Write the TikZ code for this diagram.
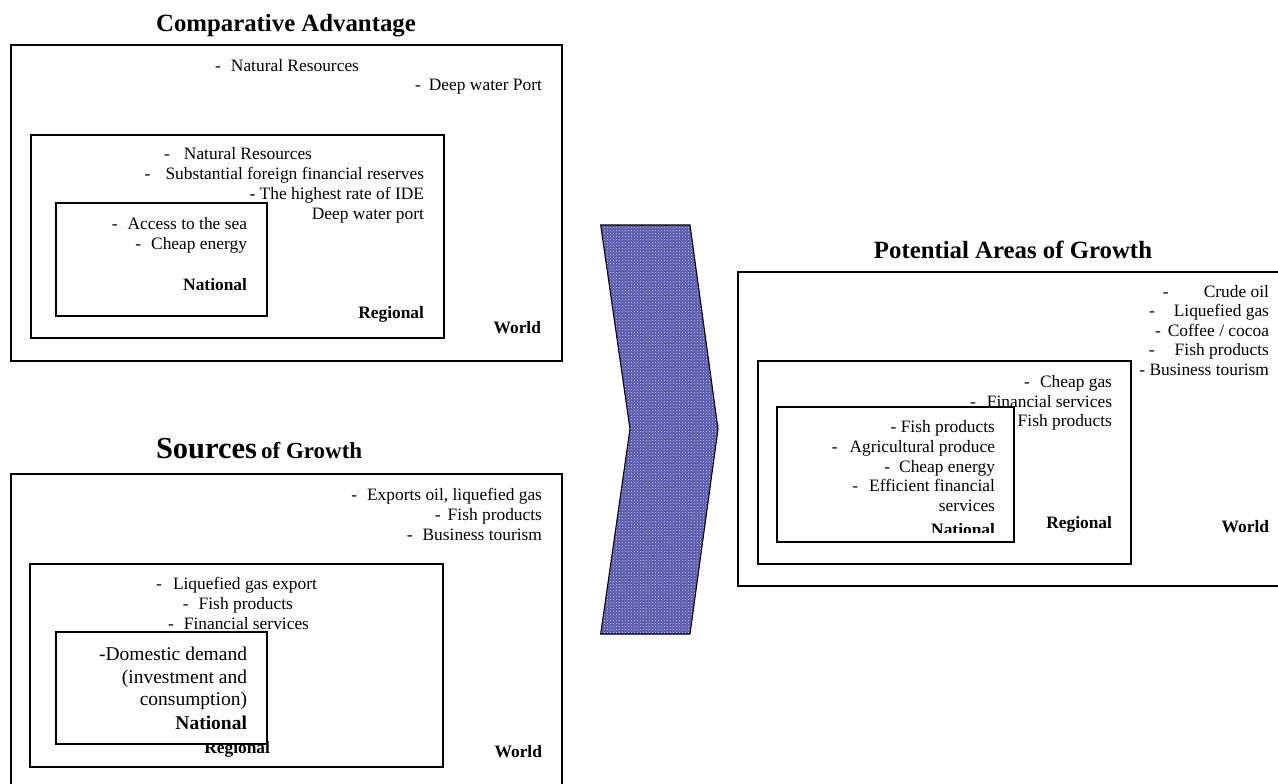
\documentclass[tikz,border=0pt]{standalone}
\usepackage{fontspec}
\setmainfont{Liberation Serif}
\usetikzlibrary{patterns}
\definecolor{chevfill}{RGB}{85,85,172}
\definecolor{chevdot}{RGB}{215,215,245}
\newcommand\bodyf{\fontsize{17.4}{20}\selectfont}
\newcommand\bigf{\fontsize{19.5}{22}\selectfont}
\newcommand\ttlf{\fontsize{24.8}{28}\selectfont\bfseries}
\newcommand\dsh[2]{-\hspace*{#1pt}#2}
\begin{document}
\begin{tikzpicture}[x=1pt,y=-1pt,
  wbox/.style={draw=black,line width=1.8pt},
  rbox/.style={draw=black,line width=1.6pt},
  nbox/.style={draw=black,line width=1.3pt,fill=white},
  ln/.style={inner sep=0pt,outer sep=0pt,anchor=base east,font=\bodyf},
  lb/.style={ln,font=\bodyf\bfseries},
  lg/.style={ln,font=\bigf},
  lgb/.style={ln,font=\bigf\bfseries},
  ttl/.style={inner sep=0pt,outer sep=0pt,anchor=base,font=\ttlf},
  chevron/.style={draw=black,line width=1.1pt,fill=chevfill}]
\useasboundingbox (0,0) rectangle (1278,784);
\clip (0,0) rectangle (1278,784);

% ---------- Comparative Advantage ----------
\node[ttl] (catitle) at (286,32) {Comparative Advantage};
\draw[wbox] (11,45) rectangle (562,361);
\draw[rbox] (31,135) rectangle (444,338);
\node[ln] (caw1) at (359,71) {\dsh{10}{Natural Resources}};
\node[ln] (caw2) at (542,91) {\dsh{8}{Deep water Port}};
\node[ln] (car1) at (312,159) {\dsh{14}{Natural Resources}};
\node[ln] (car2) at (424,179) {\dsh{15}{Substantial foreign financial reserves}};
\node[ln] (car3) at (424,199) {- The highest rate of IDE};
\node[ln] (car4) at (424,219) {Deep water port};
\node[lb] (careg) at (424,318) {Regional};
\node[lb] (cawor) at (541,333) {World};
\draw[nbox] (56,203) rectangle (267,316);
\node[ln] (can1) at (247,229) {\dsh{10}{Access to the sea}};
\node[ln] (can2) at (247,249) {\dsh{10}{Cheap energy}};
\node[lb] (canat) at (247,290) {National};

% ---------- Sources of Growth ----------
\node[inner sep=0pt,outer sep=0pt,anchor=base west,font=\bfseries] (sgtitle) at (156,458)
  {{\fontsize{30.5}{32}\selectfont Sources}\hspace{4pt}{\fontsize{23}{24}\selectfont of Growth}};
\draw[wbox] (11,474) rectangle (562,800);
\draw[rbox] (30,564) rectangle (443,767);
\node[ln] (sgw1) at (542,500) {\dsh{10}{Exports oil, liquefied gas}};
\node[ln] (sgw2) at (542,520) {\dsh{7}{Fish products}};
\node[ln] (sgw3) at (542,540) {\dsh{10}{Business tourism}};
\node[ln] (sgr1) at (317,589) {\dsh{11}{Liquefied gas export}};
\node[ln] (sgr2) at (293,609) {\dsh{10}{Fish products}};
\node[ln] (sgr3) at (309,629) {\dsh{10}{Financial services}};
\node[lb] (sgreg) at (270,753) {Regional};
\node[lb] (sgwor) at (542,757) {World};
\draw[nbox] (56,632) rectangle (267,744);
\node[lg] (sgn1) at (247,660) {-Domestic demand};
\node[lg] (sgn2) at (247,683) {(investment and};
\node[lg] (sgn3) at (247,705) {consumption)};
\node[lgb] (sgnat) at (247,729) {National};

% ---------- Chevron ----------
\coordinate (c1) at (600.7,225);
\coordinate (c2) at (690,225);
\coordinate (c3) at (718,429);
\coordinate (c4) at (690,634);
\coordinate (c5) at (600.7,634);
\coordinate (c6) at (630,429);
\fill[chevfill] (c1) -- (c2) -- (c3) -- (c4) -- (c5) -- (c6) -- cycle;
\fill[pattern=crosshatch dots,pattern color=chevdot] (c1) -- (c2) -- (c3) -- (c4) -- (c5) -- (c6) -- cycle;
\draw[chevron,fill=none,line join=miter] (c1) -- (c2) -- (c3) -- (c4) -- (c5) -- (c6) -- cycle;

% ---------- Potential Areas of Growth ----------
\node[ttl] (pgtitle) at (1013,258) {Potential Areas of Growth};
\draw[wbox] (738,272) rectangle (1300,586);
\draw[rbox] (758,361) rectangle (1131,564);
\node[ln] (pgw1) at (1269,297) {\dsh{35}{Crude oil}};
\node[ln] (pgw2) at (1269,316) {\dsh{19}{Liquefied gas}};
\node[ln] (pgw3) at (1269,336) {\dsh{7}{Coffee / cocoa}};
\node[ln] (pgw4) at (1269,355) {\dsh{20}{Fish products}};
\node[ln] (pgw5) at (1269,375) {- Business tourism};
\node[ln] (pgr1) at (1112,387) {\dsh{10}{Cheap gas}};
\node[ln] (pgr2) at (1112,407) {\dsh{11}{Financial services}};
\node[ln] (pgr3) at (1112,426) {\dsh{10}{Fish products}};
\node[lb] (pgreg) at (1112,528) {Regional};
\node[lb] (pgwor) at (1269,532) {World};
\draw[nbox] (777,407) rectangle (1014,542);
\node[ln] (pgn1) at (995,432) {- Fish products};
\node[ln] (pgn2) at (995,452) {\dsh{12}{Agricultural produce}};
\node[ln] (pgn3) at (995,472) {\dsh{9}{Cheap energy}};
\node[ln] (pgn4) at (995,491) {\dsh{11}{Efficient financial}};
\node[ln] (pgn5) at (995,511) {services};
\begin{scope}
  \clip (777,407) rectangle (1014,532);
  \node[lb] (pgnat) at (995,535) {National};
\end{scope}
\end{tikzpicture}
\end{document}
